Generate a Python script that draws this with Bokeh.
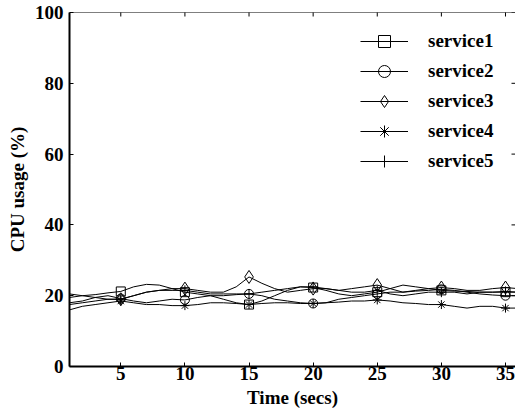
import math
from bokeh.plotting import figure
from bokeh.models import Legend, LegendItem, FixedTicker, Range1d, Span
from bokeh.embed import file_html
from bokeh.resources import INLINE

# ---- data ----
time_secs = list(range(1, 37))
x_ticks = [5, 10, 15, 20, 25, 30, 35]
y_ticks = [0, 20, 40, 60, 80, 100]
series_names = ["service1", "service2", "service3", "service4", "service5"]
service1 = [19.5, 20, 20.3, 20.8, 21.2, 22.5, 23.2, 23, 22, 21.0, 20.5, 20, 19, 18, 17.5, 18.5, 20, 21.5,
            22.5, 22.3, 21.5, 20.5, 20, 20.5, 21.0, 22, 23, 22.5, 22, 21.5, 21.3, 21.2, 21, 21, 21.0, 21]
service2 = [18, 18.5, 19.5, 20, 19.2, 18.5, 18, 18.5, 19, 18.8, 19.5, 20, 20, 20.3, 20.5, 20, 19, 18.5,
            18, 17.8, 18, 19, 19.5, 20, 20.5, 21, 21, 21.3, 21.5, 21.8, 21.5, 21, 20.5, 20.2, 20.0, 20]
service3 = [20.5, 20, 19.5, 19, 19.0, 20, 21, 21.5, 22, 22.0, 21.5, 21, 21, 22.5, 25.3, 23.5, 22, 21,
            21.5, 22.0, 22, 21.5, 22, 22.5, 23.0, 22, 21, 21.5, 22, 22.3, 22, 21.5, 21.5, 22, 22.3, 22]
service4 = [16, 17, 17.5, 18, 18.5, 18, 17.5, 17.5, 17.2, 17.2, 17.5, 18, 18, 17.8, 17.5, 17.8, 18, 18,
            17.8, 17.8, 18, 18.2, 18.5, 18.5, 18.8, 18.5, 18, 17.8, 17.5, 17.5, 17, 16.5, 17, 17, 16.5, 16.5]
service5 = [17.5, 18, 18.5, 19, 19.0, 20, 21, 21.5, 21.5, 21.5, 21, 20.5, 20.5, 20.5, 20.5, 21, 21.5, 22,
            22.5, 22.5, 22, 21.5, 21, 21, 21.5, 20.5, 20, 20.5, 21, 21.0, 21, 20.5, 21, 21, 21.2, 21]
markers = ["square", "circle", "diamond", "asterisk", "cross"]
marker_sizes = [9, 9, 13, 9, 10]

FONT = "Liberation Serif"
X_END = 35.78

p = figure(width=515, height=418, output_backend="svg", toolbar_location=None,
           x_range=Range1d(1, X_END), y_range=Range1d(0, 100),
           min_border_left=69, min_border_top=12, min_border_right=0, min_border_bottom=52,
           x_axis_label="Time (secs)", y_axis_label="CPU usage (%)")
p.xgrid.visible = False
p.ygrid.visible = False
p.outline_line_color = None
p.background_fill_color = "white"
p.border_fill_color = "white"

p.xaxis.ticker = FixedTicker(ticks=x_ticks)
p.yaxis.ticker = FixedTicker(ticks=y_ticks)
for ax in list(p.xaxis) + list(p.yaxis):
    ax.major_tick_in = 4
    ax.major_tick_out = 0
    ax.minor_tick_line_color = None
    ax.axis_line_width = 2
    ax.axis_line_color = "black"
    ax.major_tick_line_color = "black"
    ax.major_label_text_font = FONT
    ax.major_label_text_font_style = "bold"
    ax.major_label_text_font_size = "19px"
    ax.major_label_text_color = "black"
    ax.axis_label_text_font = FONT
    ax.axis_label_text_font_style = "bold"
    ax.axis_label_text_font_size = "19px"
    ax.axis_label_text_color = "black"
p.xaxis.major_label_standoff = 0
p.xaxis.axis_label_standoff = 4
p.yaxis.major_label_standoff = 6
p.yaxis.axis_label_standoff = 4

# thin top border of the frame, with mirrored inward ticks on top and right
p.add_layout(Span(location=y_ticks[-1], dimension="width", line_color="black", line_width=1))
p.scatter(x_ticks, [y_ticks[-1]] * len(x_ticks), marker="dash", angle=math.pi / 2, size=8,
          line_color="black", line_width=1)
p.scatter([X_END] * len(y_ticks), y_ticks, marker="dash", size=8, line_color="black", line_width=1)

items = []
for name, ys, mk, ms in zip(series_names, [service1, service2, service3, service4, service5],
                            markers, marker_sizes):
    r = p.line(time_secs, ys, line_color="black", line_width=1)
    m = p.scatter(time_secs[4::5], ys[4::5], marker=mk, size=ms, line_color="black",
                  fill_color=None, line_width=1)
    items.append(LegendItem(label=name, renderers=[r, m]))

legend = Legend(items=items, location=(291, 190), glyph_width=48, glyph_height=30,
                label_height=30, spacing=0, padding=0, margin=0, label_standoff=20,
                border_line_color=None, background_fill_alpha=0,
                label_text_font=FONT, label_text_font_style="bold",
                label_text_font_size="19px", label_text_color="black")
p.add_layout(legend)

open("out.html", "w").write(file_html(p, INLINE))
